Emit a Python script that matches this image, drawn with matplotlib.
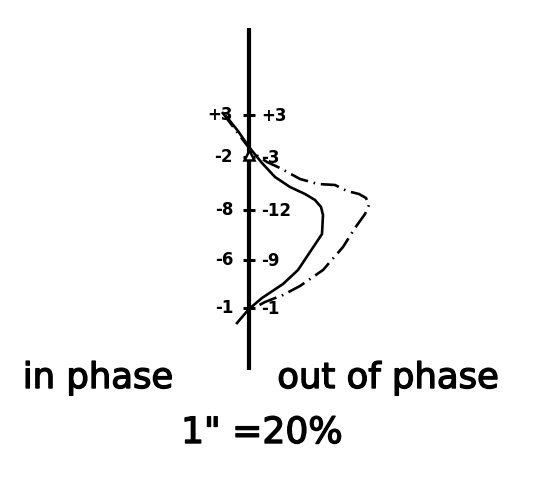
import matplotlib
matplotlib.use("Agg")
import matplotlib.pyplot as plt
import matplotlib.patheffects as pe

# Reading stations along the traverse (depth, drawing units) and their values
stations = [115, 157, 210, 260, 308]
in_phase_labels = ["+3", "-2", "-8", "-6", "-1"]
out_phase_labels = ["+3", "-3", "-12", "-9", "-1"]

# Solid profile: offset from the reference line and depth
solid_dx = [-23, -11, 0, 13, 26, 41, 56, 66, 72, 74, 73, 61, 49, 34, 13, 0, -12]
solid_y = [116, 131, 147, 163, 177, 187, 194, 200, 207, 215, 234, 252, 270, 284, 298, 309, 323]

# Dash-dot profile: offset from the reference line and depth
dashdot_dx = [-27, -6, 3, 18, 31, 51, 69, 86, 98, 110, 117, 120, 116, 106, 94, 74, 51, 34, 16, 1]
dashdot_y = [112, 140, 152, 162, 168, 179, 184, 185, 191, 194, 198, 205, 214, 228, 247, 270, 286, 295, 302, 310]

axis_top, axis_bottom = 28, 370

fig = plt.figure(figsize=(5.57, 5.0), dpi=100)
ax = fig.add_axes([0, 0, 1, 1])
ax.set_xlim(-249, 308)
ax.set_ylim(500, 0)
ax.axis("off")

# Reference line and station ticks
ax.plot([0, 0], [axis_top, axis_bottom], color="black", lw=3.0, solid_capstyle="butt")
ax.hlines(stations, -6, 6, color="black", lw=2.2)

# Profiles
ax.plot(solid_dx, solid_y, color="black", lw=1.9, solid_joinstyle="round")
ax.plot(dashdot_dx, dashdot_y, color="black", lw=1.9,
        linestyle=(0, (7, 2.2, 0.6, 2.2)), dash_joinstyle="round")

# Marker at the second station
ax.plot([0], [stations[1] - 2], marker="^", ms=7, mfc="white", mec="black", mew=1.8)

# Station values on either side of the line
for y, lab in zip(stations, in_phase_labels):
    ax.text(-16, y, lab, ha="right", va="center", fontsize=12, fontweight="bold")
for y, lab in zip(stations, out_phase_labels):
    ax.text(12, y + 1, lab, ha="left", va="center", fontsize=12, fontweight="bold")

# Captions, lettered with a slightly heavier stroke
heavy = [pe.withStroke(linewidth=1.0, foreground="black")]
ax.text(-151, 378, "in phase", ha="center", va="center", fontsize=25.5,
        path_effects=heavy)
ax.text(139, 378, "out of phase", ha="center", va="center", fontsize=25.5,
        path_effects=heavy)
ax.text(13, 433, "1\" =20%", ha="center", va="center", fontsize=26,
        path_effects=heavy)

fig.savefig("out.png", dpi=100, facecolor="white")
